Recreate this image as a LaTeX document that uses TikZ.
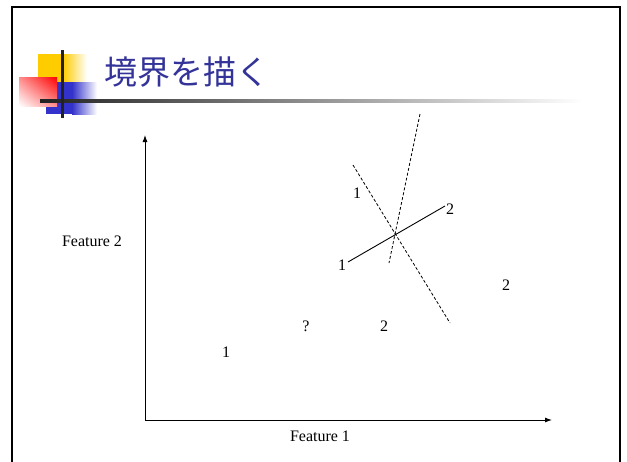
\documentclass[tikz,border=0pt]{standalone}
\usepackage{fontspec}
\setmainfont{Liberation Serif}
\newfontfamily\cjk{Noto Sans CJK JP}
\usetikzlibrary{arrows.meta,shadings}
\definecolor{titleblue}{RGB}{51,51,153}
\definecolor{sqyellow}{RGB}{255,204,0}
\definecolor{sqblue}{RGB}{51,51,204}
\definecolor{sqred}{RGB}{255,0,0}
\definecolor{barcol}{RGB}{34,34,34}
\begin{document}
\begin{tikzpicture}[x=1pt,y=-1pt,
  lbl/.style={font=\fontsize{16}{16}\selectfont, inner sep=0pt},
  dline/.style={dash pattern=on 3pt off 2pt, line width=0.8pt},
  sline/.style={line width=0.9pt},
  axis/.style={line width=0.9pt, -{Latex[length=7pt,width=5pt]}}]
\useasboundingbox (0,0) rectangle (627,461);
\fill[white] (0,0) rectangle (627,461);
\clip (0,0) rectangle (627,461);
% frame
\draw[line width=2.2pt] (12,480) -- (12,7) -- (620,7) -- (620,480);
% decoration
\fill[sqyellow] (38,54) rectangle (63,82);
\shade[left color=sqyellow, right color=white] (63,54) rectangle (87,82);
\fill[sqblue] (46,82) rectangle (72,114);
\shade[left color=sqblue, right color=white] (72,82) rectangle (97,114);
\shade[upper right=sqred, upper left=sqred!45!white, lower right=sqred!45!white, lower left=white] (19,77) rectangle (57,106);
\shade[left color=barcol, right color=white] (40,99) rectangle (583,102);
\fill[barcol] (61,50) rectangle (64,118);
% title
\node[font=\cjk\fontsize{33}{33}\selectfont, text=titleblue, inner sep=0pt] (title) at (187,72) {境界を描く};
% axes
\coordinate (O) at (145,420);
\coordinate (ytop) at (145,135);
\coordinate (xend) at (552,420);
\draw[axis] (O) -- (ytop);
\draw[axis] (O) -- (xend);
\node[lbl] (f2) at (92,241) {Feature 2};
\node[lbl] (f1) at (320,436) {Feature 1};
% points
\node[lbl] (p1) at (226,352) {1};
\node[lbl] (pq) at (306,326) {?};
\node[lbl] (p2a) at (384,326) {2};
\node[lbl] (p2b) at (506,285) {2};
% boundary lines
\coordinate (sA) at (348,262);
\coordinate (sB) at (445,206);
\draw[sline] (sA) -- (sB);
\node[lbl] (s1) at (342,265) {1};
\node[lbl] (s2) at (450,209) {2};
\coordinate (dA) at (353,165);
\coordinate (dB) at (450,323);
\draw[dline] (dA) -- (dB);
\node[lbl] (d1) at (357,193) {1};
\coordinate (eA) at (420,114);
\coordinate (eB) at (389,263);
\draw[dline] (eA) -- (eB);
\end{tikzpicture}
\end{document}
